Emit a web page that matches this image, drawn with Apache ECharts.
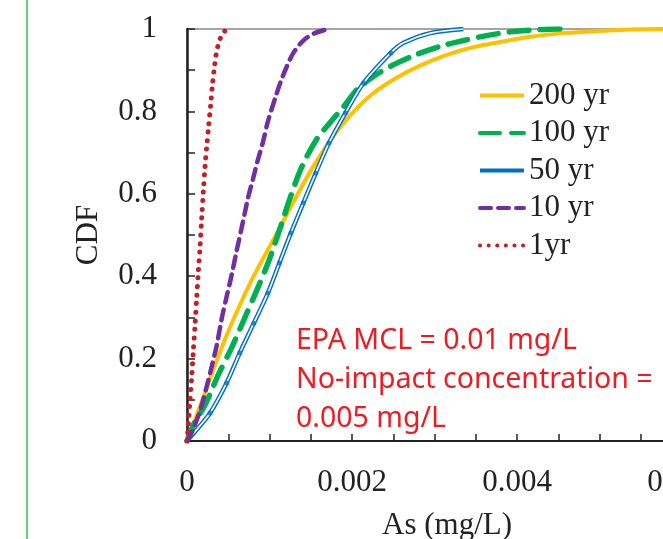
<!DOCTYPE html>
<html>
<head>
<meta charset="utf-8">
<script src="https://cdn.jsdelivr.net/npm/echarts@6.0.0/dist/echarts.min.js"></script>
<style>
  html, body { margin: 0; padding: 0; background: #fff; }
  #chart { width: 663px; height: 539px; }
</style>
</head>
<body>
<div id="chart"></div>
<script>
// CDF curves: [As mg/L, CDF]
var names = ['200 yr', '100 yr', '50 yr', '10 yr', '1yr'];
var yr200 = [[0,0],[0.00006,0.032],[0.00018,0.096],[0.00034,0.185],[0.0005,0.266],[0.00068,0.347],[0.00082,0.405],[0.00098,0.464],[0.00115,0.527],[0.00133,0.595],[0.00152,0.663],[0.00173,0.728],[0.0019,0.772],[0.00206,0.808],[0.00222,0.838],[0.00242,0.867],[0.00266,0.895],[0.00295,0.922],[0.00327,0.945],[0.00359,0.961],[0.00392,0.973],[0.00416,0.981],[0.00456,0.99],[0.00497,0.995],[0.00537,0.999],[0.006,1.0]];
var yr100 = [[0,0],[0.00008,0.04],[0.00022,0.088],[0.00038,0.161],[0.00054,0.226],[0.0007,0.299],[0.00084,0.363],[0.00099,0.436],[0.00113,0.517],[0.00125,0.59],[0.00139,0.665],[0.00157,0.732],[0.00173,0.772],[0.0019,0.812],[0.00206,0.853],[0.00226,0.885],[0.0025,0.913],[0.00278,0.938],[0.00307,0.958],[0.00335,0.972],[0.00363,0.984],[0.00392,0.993],[0.0043,0.999],[0.0046,1.0]];
// 50 yr: points with markers, plus extra curve points without markers
var yr50 = [[0.00028,0.068],[0.00048,0.141],[0.00064,0.214],[0.00081,0.286],[0.00098,0.359],[0.00112,0.432],[0.00126,0.505],[0.00141,0.578],[0.00156,0.65],[0.00172,0.723],[0.00192,0.796],[0.00214,0.869],[0.00247,0.942]];
var yr50Head = [[0,0],[0.000137,0.032]];
var yr50Tail = [[0.00262,0.966],[0.00295,0.99],[0.00335,1.0]];
var yr10 = [[0,0],[0.00006,0.022],[0.00012,0.052],[0.00018,0.088],[0.00024,0.133],[0.0003,0.181],[0.00036,0.232],[0.00042,0.296],[0.00048,0.35],[0.00054,0.402],[0.0006,0.46],[0.00066,0.515],[0.00074,0.59],[0.0008,0.636],[0.00086,0.683],[0.00092,0.725],[0.00098,0.775],[0.00107,0.833],[0.00113,0.869],[0.00121,0.909],[0.00129,0.942],[0.00141,0.972],[0.00155,0.99],[0.00171,1.0]];
var yr1 = [[0,0],[0.000016,0.04],[0.000036,0.10],[0.000057,0.155],[0.000077,0.22],[0.000097,0.28],[0.000118,0.35],[0.000137,0.41],[0.000158,0.47],[0.000178,0.54],[0.000198,0.605],[0.000218,0.665],[0.000239,0.715],[0.00026,0.76],[0.000287,0.816],[0.000307,0.862],[0.000331,0.905],[0.000352,0.937],[0.000379,0.962],[0.000421,0.985],[0.000481,1.0]];
var noteLines = ['EPA MCL = 0.01 mg/L', 'No-impact concentration =', '0.005 mg/L'];

var serif = 'Liberation Serif';
var chart = echarts.init(document.getElementById('chart'), null, { renderer: 'canvas' });

var line50 = yr50Head.concat(yr50, yr50Tail);

var option = {
  animation: false,
  backgroundColor: '#fff',
  grid: {
    left: 187, top: 29, bottom: 98, right: -19,
    outerBoundsMode: 'none',
    containLabel: false,
    show: true, borderColor: '#888', borderWidth: 1.5
  },
  legend: {
    data: names,
    orient: 'vertical',
    left: 478,
    top: 80,
    padding: 0,
    itemWidth: 44,
    itemHeight: 14,
    itemGap: 6.5,
    itemStyle: { opacity: 0 },
    lineStyle: { width: 4 },
    textStyle: { fontFamily: serif, fontSize: 31, color: '#222', lineHeight: 30 }
  },
  xAxis: {
    type: 'value',
    min: 0, max: 0.006, interval: 0.0005,
    name: 'As (mg/L)',
    nameLocation: 'middle',
    nameGap: 69,
    nameTextStyle: { fontFamily: serif, fontSize: 31, color: '#222', padding: [0, 0, 0, 25] },
    splitLine: { show: false },
    axisLine: { lineStyle: { color: '#222', width: 2 } },
    axisTick: { inside: true, length: 7, lineStyle: { color: '#222', width: 1.5 } },
    axisLabel: {
      interval: 0, margin: 26,
      fontFamily: serif, fontSize: 31, color: '#222',
      formatter: function (v) {
        var k = Math.round(v / 0.0005);
        if (k % 4 !== 0) return '';
        return k === 0 ? '0' : (k * 0.0005).toFixed(3);
      }
    }
  },
  yAxis: {
    type: 'value',
    min: 0, max: 1, interval: 0.1,
    name: 'CDF',
    nameLocation: 'middle',
    nameGap: 83,
    nameTextStyle: { fontFamily: serif, fontSize: 31, color: '#222' },
    splitLine: { show: false },
    axisLine: { lineStyle: { color: '#222', width: 2.5 } },
    axisTick: { inside: true, length: 8, lineStyle: { color: '#222', width: 1.5 } },
    axisLabel: {
      margin: 30,
      fontFamily: serif, fontSize: 31, color: '#222',
      formatter: function (v) {
        var k = Math.round(v * 10);
        if (k % 2 !== 0) return '';
        return String(k / 10);
      }
    }
  },
  series: [
    {
      name: '200 yr', type: 'line', data: yr200, smooth: 0.3, symbol: 'none',
      itemStyle: { color: '#FFC000' },
      lineStyle: { color: '#FFC000', width: 4 }
    },
    {
      name: '100 yr', type: 'line', data: yr100, smooth: 0.3, symbol: 'none',
      itemStyle: { color: '#00B050' },
      lineStyle: { color: '#00B050', width: 5.5, type: [20, 11], cap: 'round' }
    },
    {
      name: '50 yr', type: 'line', data: line50, smooth: 0.3, symbol: 'none',
      itemStyle: { color: '#0070C0' },
      lineStyle: { color: '#0070C0', width: 4.5 }
    },
    {
      name: '50 yr inner', type: 'line', data: line50, smooth: 0.3, symbol: 'none',
      silent: true,
      lineStyle: { color: '#ffffff', width: 1.6 }
    },
    {
      name: '50 yr marks', type: 'scatter', data: yr50, symbolSize: 5,
      silent: true, z: 5,
      itemStyle: { color: '#0070C0' }
    },
    {
      name: '10 yr', type: 'line', data: yr10, smooth: 0.3, symbol: 'none',
      itemStyle: { color: '#7030A0' },
      lineStyle: { color: '#7030A0', width: 4.5, type: [11, 7], cap: 'round' }
    },
    {
      name: '1yr', type: 'line', data: yr1, smooth: 0.3, symbol: 'none',
      itemStyle: { color: '#C0202A' },
      lineStyle: { color: '#C0202A', width: 5, type: [0.1, 8.5], cap: 'round' }
    }
  ],
  graphic: [
    {
      type: 'line', silent: true,
      shape: { x1: 27, y1: 0, x2: 27, y2: 539 },
      style: { stroke: '#2DBE5A', lineWidth: 1.5 }
    },
    {
      type: 'text', left: 296, top: 321, silent: true,
      style: {
        text: noteLines.join('\n'),
        fontFamily: 'Noto Sans', fontSize: 28.5, lineHeight: 39,
        fill: '#ED1C24'
      }
    }
  ]
};

chart.setOption(option);
</script>
</body>
</html>
